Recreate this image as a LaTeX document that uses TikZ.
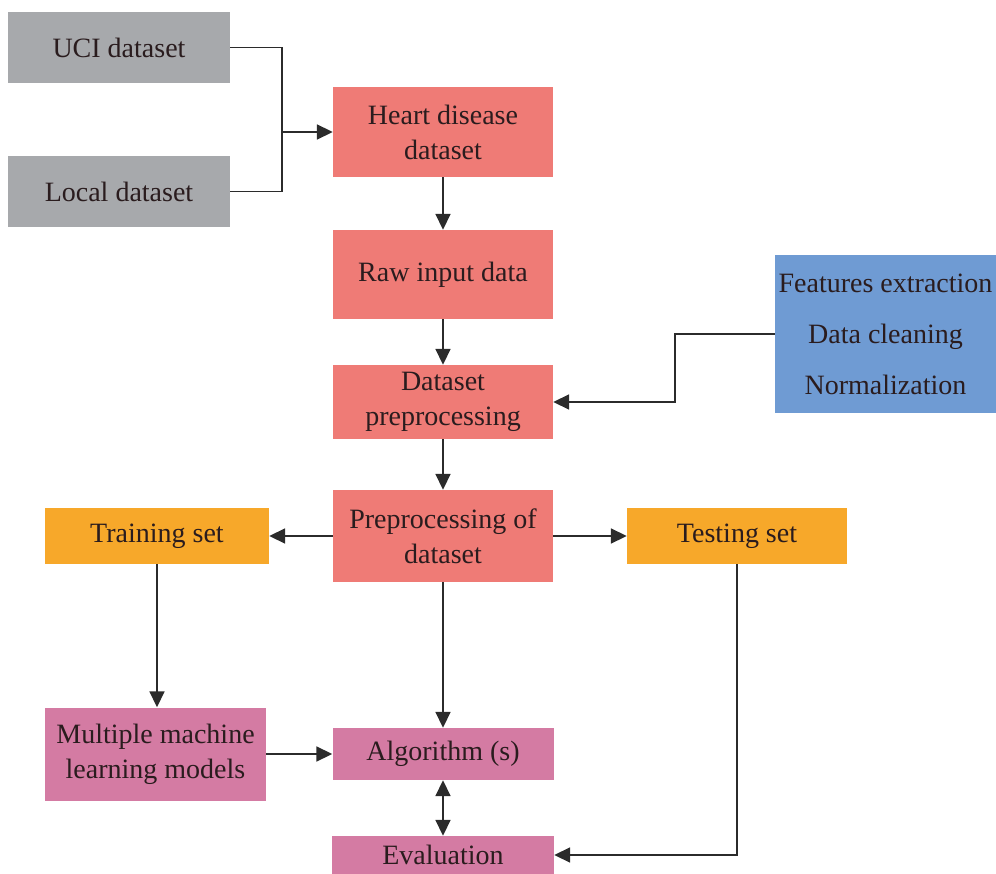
\documentclass[tikz,border=0pt]{standalone}
\usepackage{fontspec}
\setmainfont{Liberation Serif}
\usepackage{tikz}
\usetikzlibrary{arrows.meta,positioning,calc}
\definecolor{hdGrey}{HTML}{A7A9AC}
\definecolor{hdSalmon}{HTML}{EF7B76}
\definecolor{hdBlue}{HTML}{6F9BD3}
\definecolor{hdOrange}{HTML}{F7A82A}
\definecolor{hdPink}{HTML}{D47BA3}
\definecolor{hdText}{HTML}{2A1C1E}
\definecolor{hdLine}{HTML}{2B2B2B}

\begin{document}
\begin{tikzpicture}[x=1pt,y=-1pt,
  font=\fontsize{28pt}{35pt}\selectfont,
  box/.style={fill=#1,text=hdText,inner sep=0pt,align=center,
    minimum width=220pt},
  arr/.style={-{Triangle[length=16pt,width=15pt]},line width=1.8pt,hdLine},
  lnk/.style={line width=1.8pt,hdLine}]
\useasboundingbox (0,0) rectangle (996,874);
% sources
\node[box=hdGrey,minimum width=222pt,minimum height=71pt] (uci) at (119,47.5) {UCI dataset};
\node[box=hdGrey,minimum width=222pt,minimum height=71pt] (loc) at (119,191.5) {Local dataset};
% main column
\node[box=hdSalmon,minimum height=90pt] (heart) at (443,132) {Heart disease\\dataset};
\node[box=hdSalmon,minimum height=89pt] (raw) at (443,274.5) {Raw input data};
\node[box=hdSalmon,minimum height=74pt] (dprep) at (443,402) {Dataset\\preprocessing};
\node[box=hdSalmon,minimum height=92pt] (pod) at (443,536) {Preprocessing of\\dataset};
\node[box=hdBlue,minimum width=221pt,minimum height=158pt] (feat) at (885.5,334)
  {Features extraction\\[16pt]Data cleaning\\[16pt]Normalization};
% split
\node[box=hdOrange,minimum width=224pt,minimum height=56pt] (train) at (157,536) {Training set};
\node[box=hdOrange,minimum height=56pt] (test) at (737,536) {Testing set};
% models
\node[box=hdPink,minimum width=221pt,minimum height=93pt] (mml) at (155.5,754) {Multiple machine\\learning models};
\node[box=hdPink,minimum width=221pt,minimum height=52pt] (alg) at (443,754) {Algorithm (s)};
\node[box=hdPink,minimum width=222pt,minimum height=38pt] (eval) at (443,855) {Evaluation};
\coordinate (join) at (282,132);
\draw[lnk] (uci.east) -| (join);
\draw[lnk] (loc.east) -| (join);
\draw[arr] (join) -- (heart.west);
\draw[arr] (heart) -- (raw);
\draw[arr] (raw) -- (dprep);
\draw[arr] (feat.west) -- ++(-100,0) |- (dprep.east);
\draw[arr] (dprep) -- (pod);
\draw[arr] (pod) -- (train);
\draw[arr] (pod) -- (test);
\draw[arr] (train.south) -- (train.south |- mml.north);
\draw[arr] (pod) -- (alg);
\draw[arr] (mml) -- (alg);
\draw[arr,{Triangle[length=16pt,width=15pt]}-{Triangle[length=16pt,width=15pt]}] (alg) -- (eval);
\draw[arr] (test.south) |- (eval.east);
\end{tikzpicture}
\end{document}
